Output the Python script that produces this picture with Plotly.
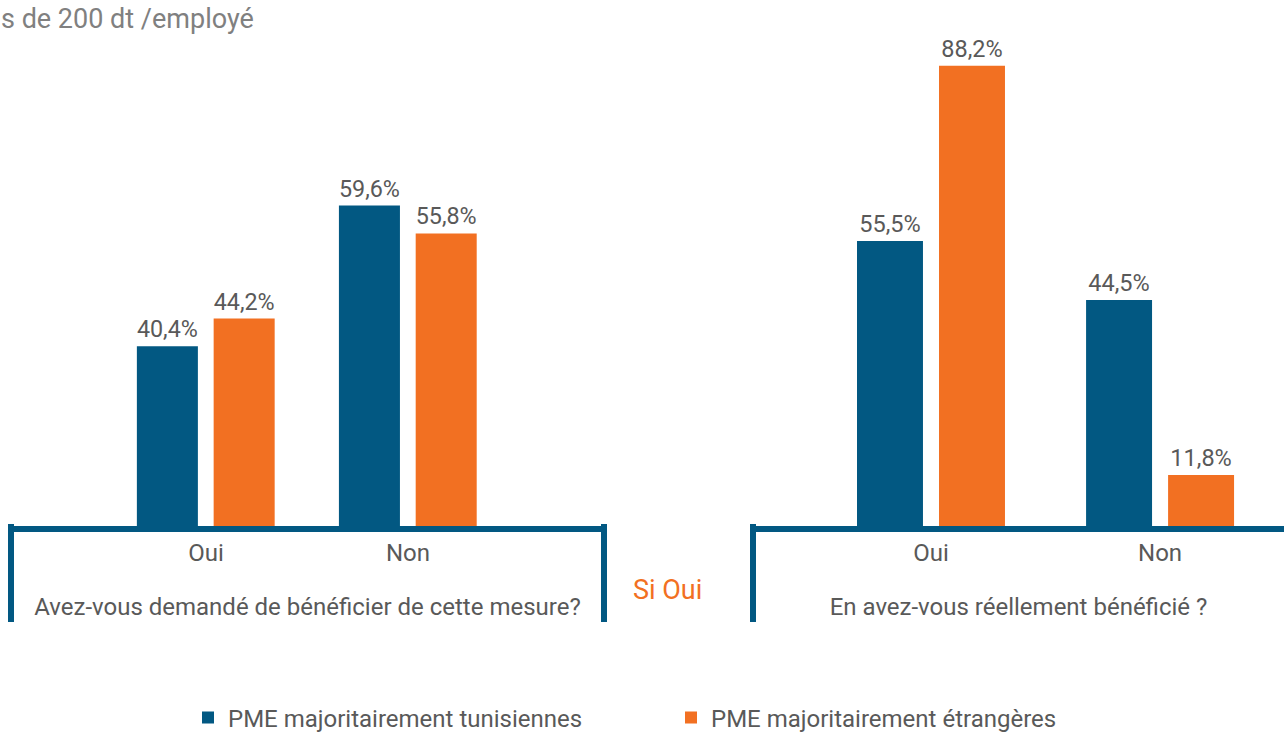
import plotly.graph_objects as go

# Avez-vous demandé de bénéficier de cette mesure ?
categories = ["Oui", "Non"]
demande_tunisiennes = [40.4, 59.6]
demande_etrangeres = [44.2, 55.8]

# Si oui : en avez-vous réellement bénéficié ?
benefice_tunisiennes = [55.5, 44.5]
benefice_etrangeres = [88.2, 11.8]

series_names = ["PME majoritairement tunisiennes", "PME majoritairement étrangères"]

BLUE = "#025882"
ORANGE = "#F27022"
GREY = "#595959"
W, H = 1284, 732


def pct(values):
    return [f"{v:.1f}".replace(".", ",") + "%" for v in values]


def px_x(p):
    return p / W


def px_y(p):
    return 1 - p / H


fig = go.Figure()

# bar width and offsets (tunisiennes, étrangères) in category units for each panel
panels = [
    ("x", "y", demande_tunisiennes, demande_etrangeres, True, 0.302, -0.342, 0.038),
    ("x2", "y2", benefice_tunisiennes, benefice_etrangeres, False, 0.288, -0.323, 0.035),
]
for xa, ya, tun, etr, show, bw, off_t, off_e in panels:
    for name, vals, col, off in [(series_names[0], tun, BLUE, off_t), (series_names[1], etr, ORANGE, off_e)]:
        fig.add_trace(go.Bar(
            x=categories, y=vals, name=name, marker_color=col, marker_line_width=0,
            width=bw, offset=off,
            text=pct(vals), textposition="outside", cliponaxis=False,
            textfont=dict(family="Roboto", size=23.5, color=GREY), showlegend=show,
            xaxis=xa, yaxis=ya, legendgroup=name,
        ))

axis_font = dict(family="Roboto", size=24, color=GREY)
xcommon = dict(showline=True, linewidth=6, linecolor=BLUE, ticks="", showgrid=False,
               tickfont=axis_font, title_font=axis_font, title_standoff=34,
               ticklabelstandoff=0, fixedrange=True)
ycommon = dict(visible=False, showgrid=False, fixedrange=True)

y_dom = [px_y(526), px_y(20)]

fig.update_layout(
    width=W, height=H,
    margin=dict(l=0, r=0, t=0, b=0, autoexpand=False),
    paper_bgcolor="white", plot_bgcolor="white",
    font=dict(family="Roboto", color=GREY),
    barmode="group",
    xaxis=dict(domain=[px_x(11), px_x(604)], range=[-0.965, 1.970], anchor="y",
               title_text="Avez-vous demandé de bénéficier de cette mesure?", **xcommon),
    yaxis=dict(domain=y_dom, range=[15.9, 84.9], anchor="x", **ycommon),
    xaxis2=dict(domain=[px_x(753), 1.0], range=[-0.777, 1.541], anchor="y2",
                title_text="En avez-vous réellement bénéficié ?", **xcommon),
    yaxis2=dict(domain=y_dom, range=[2.3, 96.75], anchor="x2", **ycommon),
    legend=dict(orientation="h", x=px_x(188), xanchor="left", y=px_y(718), yanchor="middle",
                font=dict(family="Roboto", size=24, color=GREY), entrywidth=438,
                bgcolor="rgba(0,0,0,0)"),
)

# open box sides under the category axes
for xp in [11, 604, 753]:
    fig.add_shape(type="line", xref="paper", yref="paper",
                  x0=px_x(xp), x1=px_x(xp), y0=px_y(524), y1=px_y(622),
                  line=dict(color=BLUE, width=6))

fig.add_annotation(text="Si Oui", xref="paper", yref="paper", x=px_x(667), y=px_y(590),
                   xanchor="center", yanchor="middle", showarrow=False,
                   font=dict(family="Roboto", size=27, color=ORANGE))
fig.add_annotation(text="s de 200 dt /employé", xref="paper", yref="paper", x=px_x(-1), y=px_y(19),
                   xanchor="left", yanchor="middle", showarrow=False,
                   font=dict(family="Roboto", size=27, color="#808080"))

page_fix = (
    "document.documentElement.style.overflow='hidden';"
    "document.body.style.margin='0';"
    "document.body.style.overflow='hidden';"
    "document.body.style.height='732px';"
)
fig.write_html("out.html", config={"displayModeBar": False}, post_script=page_fix)
